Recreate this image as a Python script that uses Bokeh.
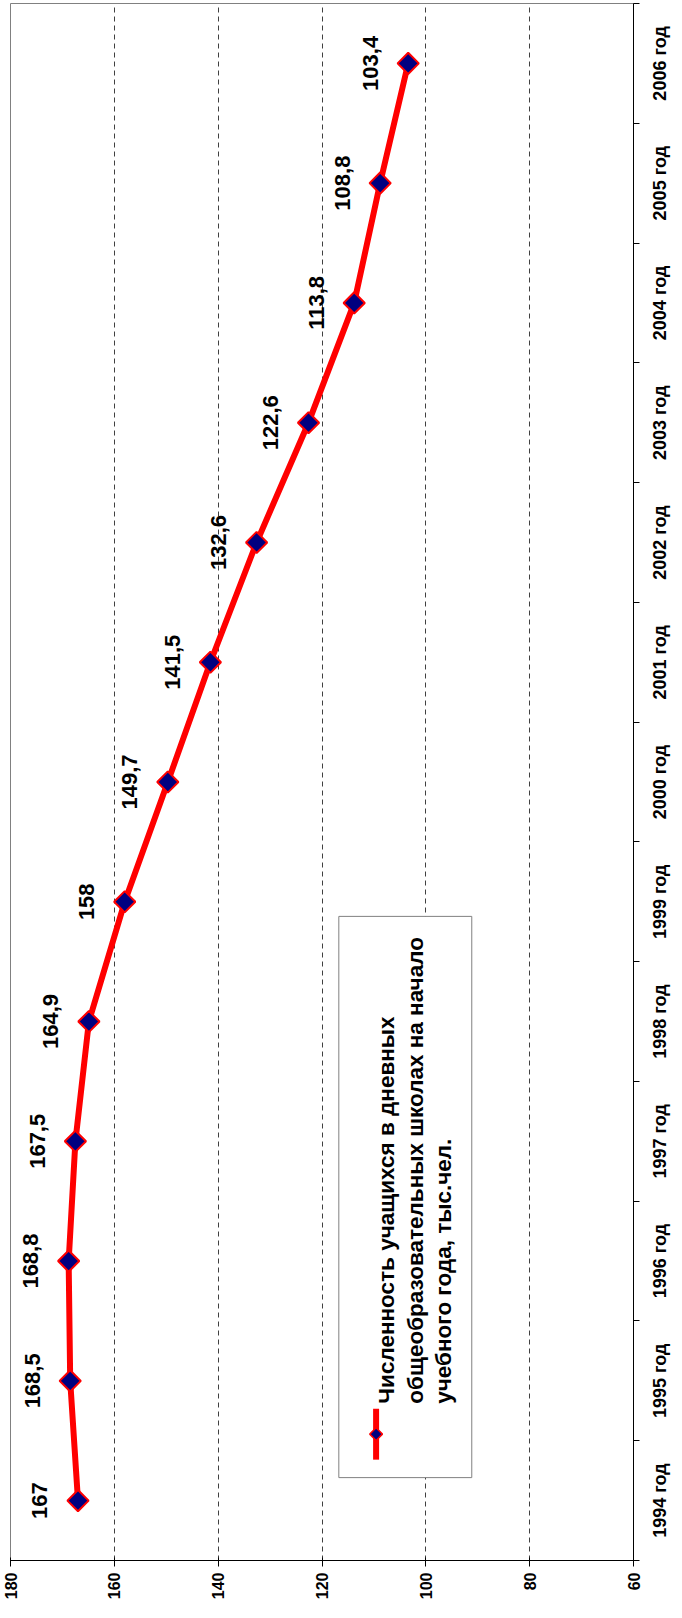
import math
from bokeh.plotting import figure
from bokeh.layouts import row
from bokeh.models import Range1d, FixedTicker, ColumnDataSource
from bokeh.core.properties import value
from bokeh.embed import file_html
from bokeh.resources import INLINE

# ---- data ----
years = ["1994 год", "1995 год", "1996 год", "1997 год", "1998 год", "1999 год", "2000 год",
         "2001 год", "2002 год", "2003 год", "2004 год", "2005 год", "2006 год"]
students = [167, 168.5, 168.8, 167.5, 164.9, 158, 149.7, 141.5, 132.6, 122.6, 113.8, 108.8, 103.4]
value_labels = ["167", "168,5", "168,8", "167,5", "164,9", "158", "149,7", "141,5",
                "132,6", "122,6", "113,8", "108,8", "103,4"]
value_ticks = [180, 160, 140, 120, 100, 80, 60]
legend_lines = ["Численность учащихся в дневных",
                "общеобразовательных школах на начало",
                "учебного года, тыс.чел."]

FONT = "Liberation Sans"
idx = list(range(len(years)))
X_MIN, X_MAX = 180, 60
H = 1602
TOP, BOTTOM = 3, 40

p = figure(width=646, height=H, output_backend="svg", toolbar_location=None,
           x_range=Range1d(X_MIN, X_MAX), y_range=Range1d(-0.5, len(years) - 0.5),
           x_axis_location="below", y_axis_location="right",
           min_border_left=10, min_border_top=TOP, min_border_right=13, min_border_bottom=BOTTOM)
p.background_fill_color = "white"
p.border_fill_color = "white"
p.outline_line_color = "#808080"
p.outline_line_width = 1

# bottom (value) axis
xa = p.xaxis[0]
xa.ticker = FixedTicker(ticks=value_ticks)
xa.axis_line_color = "black"
xa.major_tick_in = 3
xa.major_tick_out = 6
xa.minor_tick_line_color = None
xa.major_tick_line_color = "black"
xa.major_label_orientation = math.pi / 2
xa.major_label_standoff = 6
xa.major_label_text_font = FONT
xa.major_label_text_font_style = "bold"
xa.major_label_text_font_size = "16px"
xa.major_label_text_color = "black"

# right (category) axis: ticks between categories, labels in the side panel
ya = p.yaxis[0]
ya.ticker = FixedTicker(ticks=idx, minor_ticks=[i - 0.5 for i in idx] + [len(years) - 0.5])
ya.major_label_overrides = {i: "" for i in idx}
ya.axis_line_color = "black"
ya.major_tick_in = 0
ya.major_tick_out = 0
ya.minor_tick_in = 0
ya.minor_tick_out = 6
ya.minor_tick_line_color = "black"
ya.major_label_standoff = 0
ya.major_label_text_font_size = "1px"

# grid
p.xgrid.ticker = FixedTicker(ticks=[160, 140, 120, 100, 80])
p.xgrid.grid_line_color = "#404040"
p.xgrid.grid_line_dash = "5 4"
p.xgrid.grid_line_width = 1
p.ygrid.grid_line_color = None

src = ColumnDataSource(dict(x=students, y=idx, lab=value_labels))
p.line("x", "y", source=src, line_color="#FF0000", line_width=6)
p.scatter("x", "y", source=src, marker="square", angle=math.pi / 4, size=15,
          fill_color="#000080", line_color="#FF0000", line_width=2)
p.text("x", "y", text="lab", source=src, angle=math.pi / 2, x_offset=-38,
       text_align="center", text_baseline="middle",
       text_font=value(FONT), text_font_style="bold", text_font_size="22px",
       text_color="black")

# legend (drawn manually, rotated like the chart)
p.quad(left=[116.76], right=[91.15], bottom=[0.192], top=[4.878],
       fill_color="white", line_color="#808080", line_width=1)
p.line(x=[109.58, 109.58], y=[0.342, 0.767], line_color="#FF0000", line_width=6)
p.scatter(x=[109.58], y=[0.555], marker="square", angle=math.pi / 4, size=9,
          fill_color="#000080", line_color="#FF0000", line_width=1.5)
leg_src = ColumnDataSource(dict(x=[107.52, 102.03, 96.54], y=[0.809] * 3, t=legend_lines))
p.text("x", "y", text="t", source=leg_src, angle=math.pi / 2,
       text_align="left", text_baseline="alphabetic",
       text_font=value(FONT), text_font_style="bold", text_font_size="22.5px",
       text_color="black")

# side panel holding the rotated year labels of the category axis
p2 = figure(width=28, height=H, output_backend="svg", toolbar_location=None,
            x_range=Range1d(0, 28), y_range=p.y_range,
            x_axis_location=None, y_axis_location=None,
            min_border_left=0, min_border_right=0, min_border_top=TOP, min_border_bottom=BOTTOM)
p2.outline_line_color = None
p2.background_fill_color = "white"
p2.border_fill_color = "white"
p2.xgrid.grid_line_color = None
p2.ygrid.grid_line_color = None
year_src = ColumnDataSource(dict(x=[13.5] * len(years), y=idx, t=years))
p2.text("x", "y", text="t", source=year_src, angle=math.pi / 2,
        text_align="center", text_baseline="middle",
        text_font=value(FONT), text_font_style="bold", text_font_size="18px",
        text_color="black")

open("out.html", "w").write(file_html(row(p, p2), INLINE))
